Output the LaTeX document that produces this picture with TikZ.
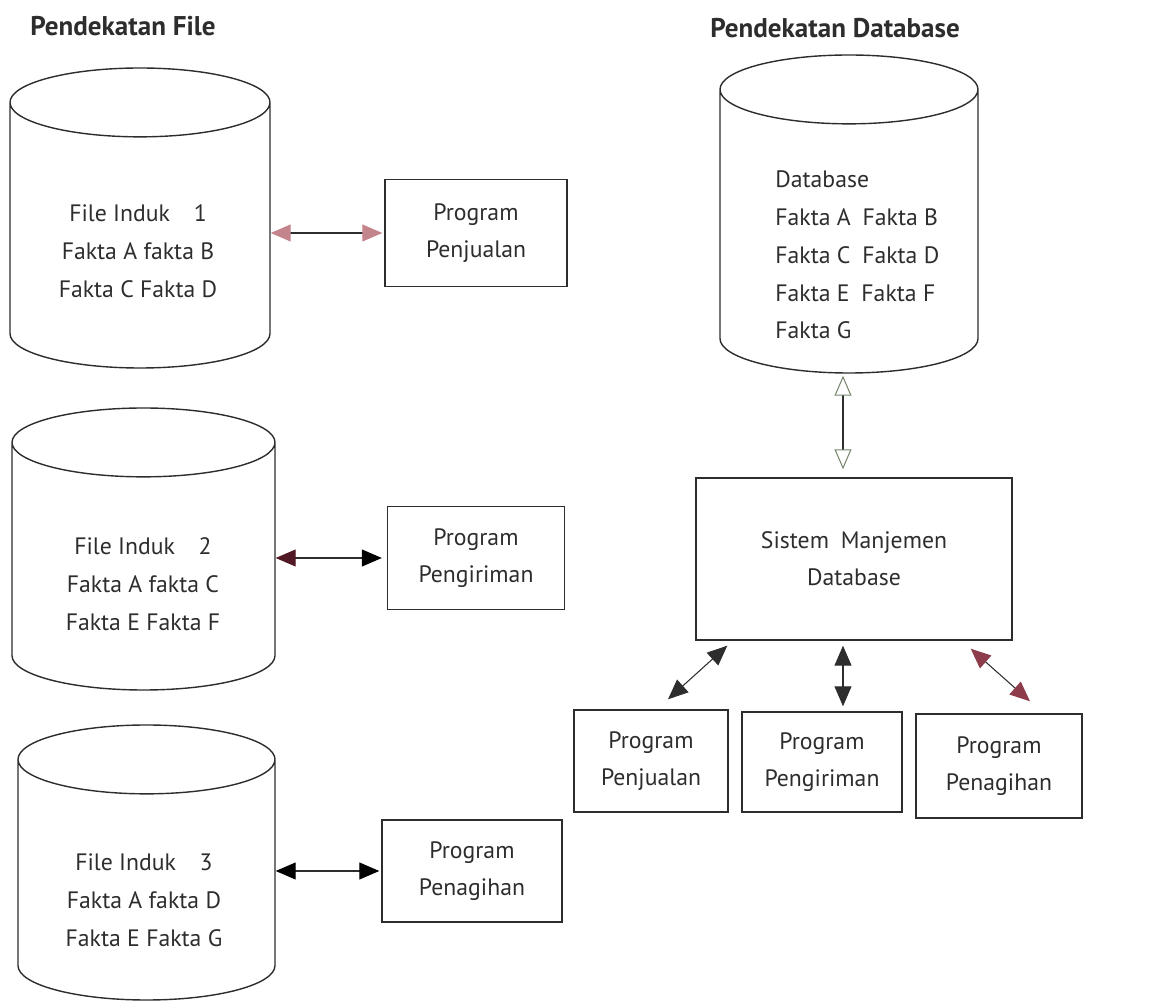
\documentclass[tikz,border=0pt]{standalone}
\usepackage{fontspec}
\setmainfont{PT Sans}
\usetikzlibrary{shapes.geometric,arrows.meta,positioning}
\definecolor{inkgrey}{RGB}{45,45,45}
\definecolor{pinkhead}{RGB}{196,132,140}
\definecolor{maroonhead}{RGB}{80,25,35}
\definecolor{sagehead}{RGB}{120,135,110}
\definecolor{redhead}{RGB}{140,60,75}

\begin{document}
\begin{tikzpicture}[
    every node/.style={text=inkgrey},
    tank/.style={cylinder, shape border rotate=90, anchor=shape center, draw=inkgrey, line width=0.8pt, inner xsep=2.55cm, inner ysep=0pt, aspect=0.27},
    prog/.style={rectangle, draw=inkgrey, line width=0.8pt, align=center, font=\fontsize{13.5}{21}\selectfont},
    facts/.style={inner sep=0pt, align=center, font=\fontsize{13.5}{21.5}\selectfont},
    heading/.style={anchor=west, inner sep=0pt, font=\fontsize{15.4}{17}\selectfont\bfseries},
    biarrow/.style={{Triangle[length=0.4cm, width=0.34cm]}-{Triangle[length=0.4cm, width=0.34cm]}, line width=0.6pt, draw=inkgrey}
]
\useasboundingbox (0,0) rectangle (23.02,-20.16);

% Headings
\node[heading] (hfile) at (0.6,-0.52) {Pendekatan File};
\node[heading] (hdb) at (14.2,-0.56) {Pendekatan Database};

% File approach
\node[tank, minimum height=6.0cm, minimum width=5.2cm] (tank1) at (2.8,-4.36) {};
\node[tank, minimum height=5.64cm, minimum width=5.26cm] (tank2) at (2.87,-10.98) {};
\node[tank, minimum height=5.5cm, minimum width=5.14cm] (tank3) at (2.93,-17.25) {};
\node[facts] (facts1) at (2.76,-5.02) {File Induk\quad 1\\Fakta A fakta B\\Fakta C Fakta D};
\node[facts] (facts2) at (2.86,-11.68) {File Induk\quad 2\\Fakta A fakta C\\Fakta E Fakta F};
\node[facts] (facts3) at (2.88,-18.0) {File Induk\quad 3\\Fakta A fakta D\\Fakta E Fakta G};

\node[prog, minimum width=3.64cm, minimum height=2.14cm] (jual1) at (9.52,-4.66) {Program\\Penjualan};
\node[prog, minimum width=3.54cm, minimum height=2.06cm] (kirim1) at (9.52,-11.16) {Program\\Pengiriman};
\node[prog, minimum width=3.6cm, minimum height=2.04cm] (tagih1) at (9.44,-17.42) {Program\\Penagihan};

% Database approach
\node[tank, minimum height=6.36cm, minimum width=5.16cm] (dbtank) at (16.98,-4.28) {};
\node[facts, anchor=west, align=left] (dbfacts) at (15.5,-5.1) {Database\\Fakta A\enspace Fakta B\\Fakta C\enspace Fakta D\\Fakta E\enspace Fakta F\\Fakta G};
\node[prog, minimum width=6.32cm, minimum height=3.24cm] (dbms) at (17.08,-11.18) {Sistem\enspace Manjemen\\Database};
\node[prog, minimum width=3.08cm, minimum height=2.04cm] (jual2) at (13.02,-15.22) {Program\\Penjualan};
\node[prog, minimum width=3.2cm, minimum height=2.0cm] (kirim2) at (16.44,-15.24) {Program\\Pengiriman};
\node[prog, minimum width=3.32cm, minimum height=2.08cm] (tagih2) at (19.98,-15.32) {Program\\Penagihan};

% Arrows
\draw[biarrow, {Triangle[length=0.4cm, width=0.34cm, color=pinkhead]}-{Triangle[length=0.4cm, width=0.34cm, color=pinkhead]}]
    (jual1.west -| tank1.east) -- ([xshift=-0.04cm]jual1.west);
\draw[biarrow, {Triangle[length=0.4cm, width=0.34cm, color=maroonhead]}-{Triangle[length=0.4cm, width=0.34cm, color=black]}]
    (kirim1.west -| tank2.east) -- ([xshift=-0.1cm]kirim1.west);
\draw[biarrow, {Triangle[length=0.4cm, width=0.34cm, color=black]}-{Triangle[length=0.4cm, width=0.34cm, color=black]}]
    (tagih1.west -| tank3.east) -- ([xshift=-0.04cm]tagih1.west);
\draw[biarrow, {Triangle[open, length=0.4cm, width=0.34cm, color=sagehead]}-{Triangle[open, length=0.4cm, width=0.34cm, color=sagehead]}]
    ([xshift=-0.12cm, yshift=-0.04cm]dbtank.south) -- ([xshift=-0.12cm, yshift=0.16cm]dbtank.south |- dbms.north);
\draw[biarrow] ([xshift=0.64cm, yshift=-0.1cm]dbms.south west) -- ([xshift=0.34cm, yshift=0.2cm]jual2.north);
\draw[biarrow] ([xshift=-0.22cm, yshift=-0.1cm]dbms.south) -- ([xshift=-0.22cm, yshift=0.1cm]dbms.south |- kirim2.north);
\draw[biarrow, {Triangle[length=0.4cm, width=0.34cm, color=redhead]}-{Triangle[length=0.4cm, width=0.34cm, color=redhead]}]
    ([xshift=-0.84cm, yshift=-0.16cm]dbms.south east) -- ([xshift=0.62cm, yshift=0.24cm]tagih2.north);

\end{tikzpicture}
\end{document}
